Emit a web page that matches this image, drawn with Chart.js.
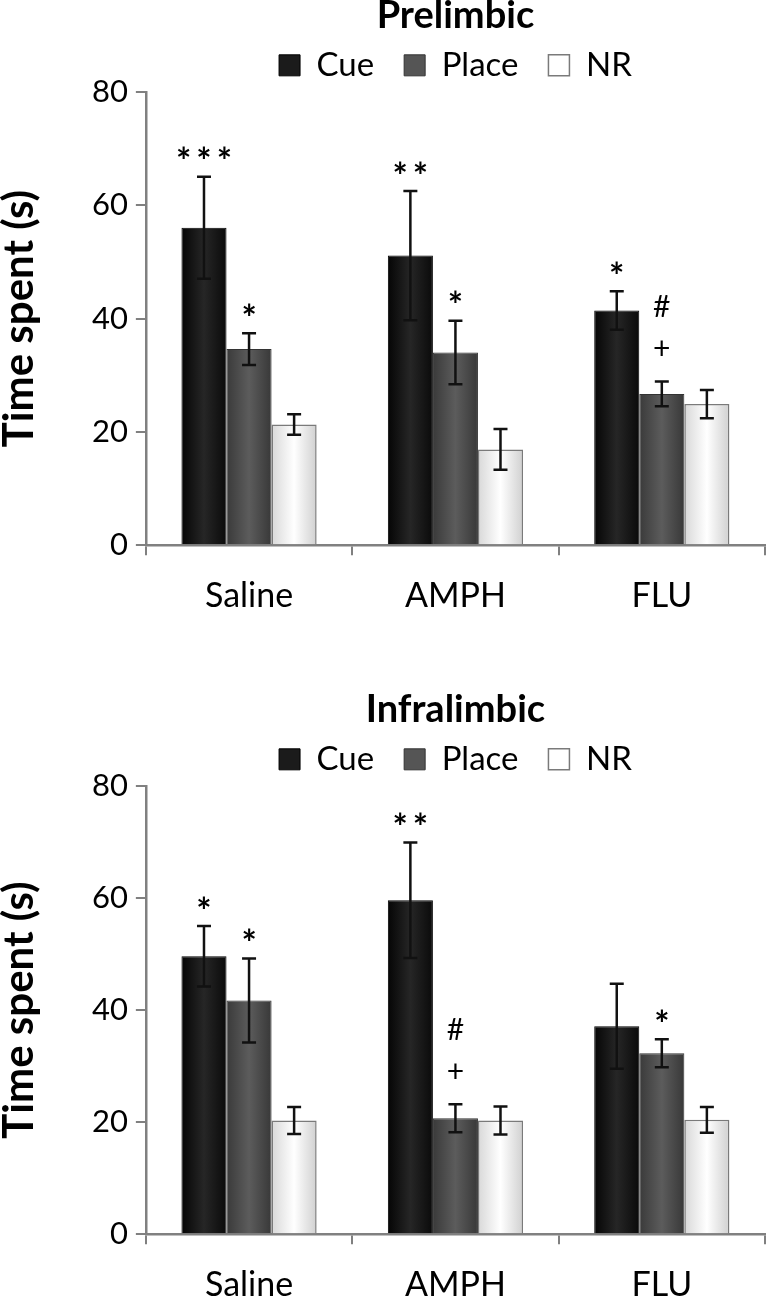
<!DOCTYPE html>
<html>
<head>
<meta charset="utf-8">
<script src="https://cdn.jsdelivr.net/npm/chart.js@4.4.1/dist/chart.umd.min.js"></script>
<style>
    html, body {margin: 0; padding: 0; background: #fff; overflow: hidden;}
    .box {position: absolute; left: 0; width: 767px;}
</style>
</head>
<body>
<div class="box" style="top:0; height:636px"><canvas id="prelimbic"></canvas></div>
<div class="box" style="top:694px; height:631px"><canvas id="infralimbic"></canvas></div>
<script>
const groups = ["Saline", "AMPH", "FLU"];
const seriesNames = ["Cue", "Place", "NR"];
const yTicks = [0, 20, 40, 60, 80];

// Prelimbic
const plCue = [56.0, 51.1, 41.4];
const plCueErr = [9.0, 11.4, 3.4];
const plPlace = [34.6, 34.0, 26.7];
const plPlaceErr = [2.8, 5.6, 2.2];
const plNR = [21.3, 16.9, 24.9];
const plNRErr = [1.8, 3.6, 2.5];
const plCueMarks = [["***"], ["**"], ["*"]];
const plPlaceMarks = [["*"], ["*"], ["#", "+"]];
const plNRMarks = [[], [], []];

// Infralimbic
const ilCue = [49.6, 59.6, 37.1];
const ilCueErr = [5.4, 10.3, 7.6];
const ilPlace = [41.7, 20.7, 32.3];
const ilPlaceErr = [7.5, 2.5, 2.5];
const ilNR = [20.3, 20.3, 20.4];
const ilNRErr = [2.4, 2.5, 2.3];
const ilCueMarks = [["*"], ["**"], []];
const ilPlaceMarks = [["*"], ["#", "+"], ["*"]];
const ilNRMarks = [[], [], []];

const FONT = "Lato, 'Open Sans', sans-serif";
const flat = ["#1b1b1b", "#555555", "#ffffff"];
const tones = [
    ["#050505", "#262626", "#0a0a0a"],
    ["#3a3a3a", "#5c5c5c", "#383838"],
    ["#d8d8d8", "#ffffff", "#d0d0d0"]
];
const borders = ["#000000", "#333333", "#7a7a7a"];

// horizontal shading on each bar, computed once the bars have their geometry
const shading = {
    id: "shading",
    beforeDatasetDraw(chart, args) {
        const ctx = chart.ctx;
        const t = tones[args.index];
        args.meta.data.forEach((bar) => {
            const g = ctx.createLinearGradient(bar.x - bar.width / 2, 0, bar.x + bar.width / 2, 0);
            g.addColorStop(0, t[0]);
            g.addColorStop(0.5, t[1]);
            g.addColorStop(1, t[2]);
            bar.options.backgroundColor = g;
        });
    }
};

// error bars + significance marks
const errorBars = {
    id: "errorBars",
    afterDatasetsDraw(chart) {
        const ctx = chart.ctx;
        const y = chart.scales.y;
        ctx.save();
        chart.data.datasets.forEach((ds, i) => {
            const meta = chart.getDatasetMeta(i);
            meta.data.forEach((bar, j) => {
                const v = ds.data[j];
                const e = ds.errors[j];
                const top = y.getPixelForValue(v + e);
                const bot = y.getPixelForValue(v - e);
                ctx.strokeStyle = "#111";
                ctx.lineWidth = 2.5;
                ctx.beginPath();
                ctx.moveTo(bar.x, top);
                ctx.lineTo(bar.x, bot);
                ctx.moveTo(bar.x - 7, top);
                ctx.lineTo(bar.x + 7, top);
                ctx.moveTo(bar.x - 7, bot);
                ctx.lineTo(bar.x + 7, bot);
                ctx.stroke();

                const lines = ds.marks[j];
                ctx.fillStyle = "#000";
                ctx.textAlign = "center";
                ctx.textBaseline = "middle";
                for (let k = 0; k < lines.length; k++) {
                    const fromBottom = lines.length - 1 - k;
                    if (lines[k].startsWith("*")) {
                        // asterisks sit high in the em box
                        ctx.font = "bold 36px " + FONT;
                        ctx.letterSpacing = "5px";
                        ctx.fillText(lines[k], bar.x + 2.5, top - 14 - fromBottom * 42);
                    } else {
                        ctx.font = "30px " + FONT;
                        ctx.letterSpacing = "0px";
                        ctx.fillText(lines[k], bar.x, top - 32 - fromBottom * 42);
                    }
                }
            });
        });
        ctx.restore();
    }
};

function makeChart(id, title, values, errors, marks) {
    const datasets = seriesNames.map((name, i) => ({
        label: name,
        data: values[i],
        errors: errors[i],
        marks: marks[i],
        backgroundColor: () => flat[i],
        borderColor: borders[i],
        borderWidth: i === 2 ? 1.5 : 1,
        barPercentage: 1.0,
        categoryPercentage: 0.655
    }));
    return new Chart(document.getElementById(id), {
        type: "bar",
        data: {labels: groups, datasets: datasets},
        plugins: [shading, errorBars],
        options: {
            responsive: true,
            maintainAspectRatio: false,
            animation: false,
            layout: {padding: {top: 0, right: 2, bottom: 0, left: 0}},
            plugins: {
                title: {
                    display: true,
                    text: title,
                    fullSize: false,
                    color: "#000",
                    font: {family: FONT, size: 38, weight: "bold", lineHeight: 0.18},
                    padding: {top: 12, bottom: 0}
                },
                legend: {
                    display: true,
                    fullSize: false,
                    labels: {
                        color: "#000",
                        boxWidth: 21,
                        boxHeight: 21,
                        padding: 30,
                        font: {family: FONT, size: 33}
                    }
                },
                tooltip: {enabled: false}
            },
            scales: {
                x: {
                    grid: {offset: true, drawOnChartArea: false, tickLength: 10, color: "#808080", lineWidth: 2},
                    border: {color: "#808080", width: 2.5},
                    ticks: {color: "#000", padding: 20, font: {family: FONT, size: 34}}
                },
                y: {
                    min: 0,
                    max: 80,
                    afterBuildTicks: (axis) => {
                        axis.ticks = yTicks.map((v) => ({value: v}));
                    },
                    grid: {drawOnChartArea: false, tickLength: 10, color: "#808080", lineWidth: 2},
                    border: {color: "#808080", width: 2.5},
                    ticks: {color: "#000", padding: 8, font: {family: FONT, size: 31}},
                    title: {
                        display: true,
                        text: "Time spent (s)",
                        color: "#000",
                        font: {family: FONT, size: 42, weight: "bold", lineHeight: 0.95},
                        padding: {top: 0, bottom: 44}
                    }
                }
            }
        }
    });
}

makeChart("prelimbic", "Prelimbic",
    [plCue, plPlace, plNR], [plCueErr, plPlaceErr, plNRErr], [plCueMarks, plPlaceMarks, plNRMarks]);
makeChart("infralimbic", "Infralimbic",
    [ilCue, ilPlace, ilNR], [ilCueErr, ilPlaceErr, ilNRErr], [ilCueMarks, ilPlaceMarks, ilNRMarks]);
</script>
</body>
</html>
